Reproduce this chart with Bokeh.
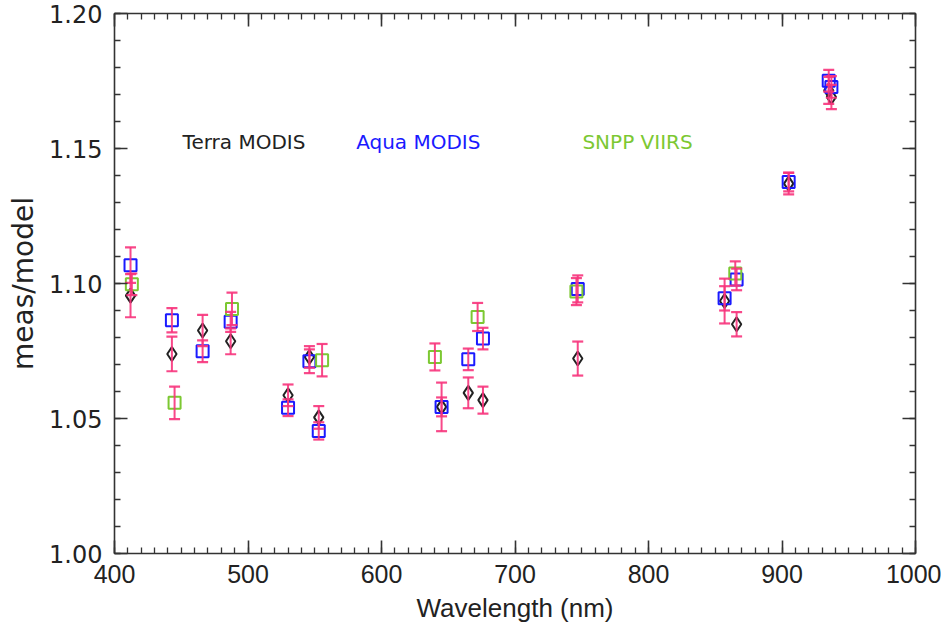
from bokeh.plotting import figure
from bokeh.models import (LinearAxis, Label, Range1d, FixedTicker,
                          PrintfTickFormatter, CustomJSTickFormatter)
from bokeh.embed import file_html
from bokeh.resources import INLINE

# ---- data ----
terra_wl  = [412, 443, 466, 487, 530, 546, 553, 645, 665, 676, 747, 857, 866, 905, 935, 937]
terra_val = [1.0955, 1.0739, 1.0826, 1.0786, 1.0586, 1.0728, 1.0504, 1.0543, 1.0595, 1.0568,
             1.0722, 1.0935, 1.0849, 1.1370, 1.1715, 1.1691]
terra_err = [0.0080, 0.0064, 0.0058, 0.0048, 0.0040, 0.0040, 0.0042, 0.0090, 0.0057, 0.0050,
             0.0063, 0.0083, 0.0045, 0.0040, 0.0050, 0.0045]

aqua_wl  = [412, 443, 466, 487, 530, 546, 553, 645, 665, 676, 747, 857, 866, 905, 935, 937]
aqua_val = [1.1068, 1.0864, 1.0749, 1.0858, 1.0540, 1.0712, 1.0454, 1.0543, 1.0719, 1.0796,
            1.0980, 1.0945, 1.1015, 1.1376, 1.1751, 1.1728]
aqua_err = [0.0066, 0.0045, 0.0040, 0.0037, 0.0031, 0.0044, 0.0032, 0.0035, 0.0040, 0.0040,
            0.0050, 0.0045, 0.0040, 0.0035, 0.0040, 0.0040]

viirs_wl  = [413, 445, 488, 555.5, 640, 672, 746, 865]
viirs_val = [1.0997, 1.0558, 1.0906, 1.0716, 1.0728, 1.0876, 1.0970, 1.1037]
viirs_err = [0.0040, 0.0060, 0.0060, 0.0060, 0.0050, 0.0052, 0.0050, 0.0045]

x_ticks = [400, 500, 600, 700, 800, 900, 1000]
y_ticks = [1.00, 1.05, 1.10, 1.15, 1.20]
x_minor = [400 + 10 * i for i in range(61)]
y_minor = [round(1.0 + 0.01 * i, 2) for i in range(21)]

legend_names = ["Terra MODIS", "Aqua MODIS", "SNPP VIIRS"]

BLACK = "#222222"
BLUE = "#1a1aff"
GREEN = "#7cc832"
PINK = "#f7347c"
AXC = "#333333"

p = figure(width=941, height=631, output_backend="svg", toolbar_location=None,
           x_range=Range1d(400, 1000), y_range=Range1d(1.0, 1.2),
           min_border_left=114, min_border_right=26, min_border_top=13, min_border_bottom=78,
           x_axis_label="Wavelength (nm)", y_axis_label="meas/model")
p.xgrid.visible = False
p.ygrid.visible = False
p.outline_line_color = None
p.background_fill_color = "white"
p.border_fill_color = "white"

p.xaxis.ticker = FixedTicker(ticks=x_ticks, minor_ticks=x_minor)
p.yaxis.ticker = FixedTicker(ticks=y_ticks, minor_ticks=y_minor)
p.yaxis.formatter = PrintfTickFormatter(format="%.2f")

def style_axis(ax):
    ax.axis_line_color = AXC
    ax.axis_line_width = 1.6
    ax.major_tick_line_color = AXC
    ax.minor_tick_line_color = AXC
    ax.major_tick_line_width = 1.6
    ax.minor_tick_line_width = 1.3
    ax.major_tick_in = 13
    ax.major_tick_out = 0
    ax.minor_tick_in = 6
    ax.minor_tick_out = 0

for ax in p.xaxis + p.yaxis:
    style_axis(ax)

p.xaxis.major_label_text_font = "Liberation Sans"
p.xaxis.major_label_text_font_size = "25px"
p.xaxis.major_label_text_color = "#222222"
p.xaxis.major_label_standoff = 11
p.xaxis.axis_label_text_font = "Liberation Sans"
p.xaxis.axis_label_text_font_size = "26px"
p.xaxis.axis_label_text_font_style = "normal"
p.xaxis.axis_label_text_color = "#222222"
p.xaxis.axis_label_standoff = 7

p.yaxis.major_label_text_font = "DejaVu Sans"
p.yaxis.major_label_text_font_size = "24px"
p.yaxis.major_label_text_color = "#222222"
p.yaxis.major_label_standoff = 12
p.yaxis.axis_label_text_font = "DejaVu Sans"
p.yaxis.axis_label_text_font_size = "28px"
p.yaxis.axis_label_text_font_style = "normal"
p.yaxis.axis_label_text_color = "#222222"
p.yaxis.axis_label_standoff = 6

blank = CustomJSTickFormatter(code="return ''")
top = LinearAxis(ticker=FixedTicker(ticks=x_ticks, minor_ticks=x_minor),
                 formatter=blank, major_label_standoff=0)
right = LinearAxis(ticker=FixedTicker(ticks=y_ticks, minor_ticks=y_minor),
                   formatter=blank, major_label_standoff=0)
style_axis(top)
style_axis(right)
p.add_layout(top, "above")
p.add_layout(right, "right")

# markers
p.scatter(terra_wl, terra_val, marker="diamond", size=14, fill_color=None,
          line_color=BLACK, line_width=2)
p.scatter(aqua_wl, aqua_val, marker="square", size=12, fill_color=None,
          line_color=BLUE, line_width=2)
p.scatter(viirs_wl, viirs_val, marker="square", size=12, fill_color=None,
          line_color=GREEN, line_width=2)

# error bars (drawn over markers)
for wl, val, err in [(terra_wl, terra_val, terra_err),
                     (aqua_wl, aqua_val, aqua_err),
                     (viirs_wl, viirs_val, viirs_err)]:
    lo = [v - e for v, e in zip(val, err)]
    hi = [v + e for v, e in zip(val, err)]
    p.segment(x0=wl, y0=lo, x1=wl, y1=hi, line_color=PINK, line_width=2, line_alpha=0.9)
    p.scatter(wl, lo, marker="dash", size=11, line_color=PINK, line_width=2.2, line_alpha=0.9)
    p.scatter(wl, hi, marker="dash", size=11, line_color=PINK, line_width=2.2, line_alpha=0.9)

for name, xpos, col in zip(legend_names, [451, 581, 750.5], [BLACK, BLUE, GREEN]):
    p.add_layout(Label(x=xpos, y=1.1523, text=name, text_color=col,
                       text_font="DejaVu Sans", text_font_size="20px",
                       text_baseline="middle", text_align="left"))

open("out.html", "w").write(file_html(p, INLINE))
